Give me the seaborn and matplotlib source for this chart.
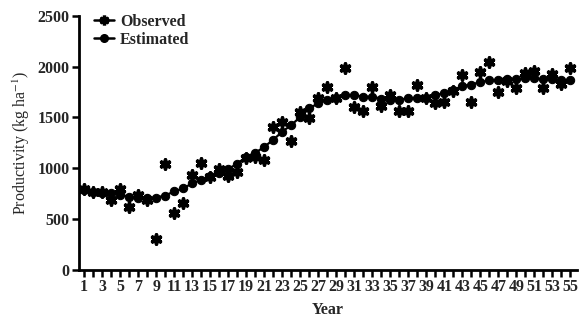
import matplotlib
matplotlib.use("Agg")
import matplotlib.pyplot as plt
from matplotlib.lines import Line2D
import seaborn as sns
import pandas as pd

years = list(range(1, 56))
observed = [790, 760, 765, 690, 790, 620, 735, 690, 300, 1045,
            555, 660, 930, 1050, 915, 995, 925, 965, 1100, 1110,
            1080, 1410, 1460, 1265, 1555, 1495, 1690, 1800, 1690, 1985,
            1600, 1560, 1800, 1610, 1720, 1560, 1560, 1820, 1690, 1640,
            1655, 1760, 1920, 1655, 1950, 2050, 1755, 1855, 1790, 1935,
            1960, 1790, 1930, 1830, 1985]
estimated = [780, 760, 755, 750, 735, 720, 710, 705, 710, 730,
             770, 800, 850, 885, 920, 955, 990, 1045, 1110, 1150,
             1210, 1280, 1360, 1425, 1505, 1590, 1640, 1675, 1690, 1720,
             1720, 1705, 1705, 1685, 1675, 1675, 1690, 1690, 1695, 1720,
             1740, 1770, 1810, 1825, 1850, 1865, 1870, 1880, 1875, 1885,
             1885, 1875, 1880, 1870, 1870]
year_labels = [str(y) if y % 2 == 1 else "" for y in years]
y_ticks = [0, 500, 1000, 1500, 2000, 2500]

df = pd.DataFrame({"Year": years, "Observed": observed, "Estimated": estimated})

sns.set_theme(style="ticks")
plt.rcParams["font.family"] = ["Liberation Serif", "DejaVu Serif"]
plt.rcParams["mathtext.fontset"] = "stix"

fig = plt.figure(figsize=(5.82, 3.22), dpi=100)
ax = fig.add_axes([0.136, 0.163, 0.855, 0.787])

star = (6, 2, 0)
sns.lineplot(data=df, x="Year", y="Estimated", ax=ax, color="black",
             linewidth=1.6, marker="o", markersize=6, markeredgecolor="black",
             markerfacecolor="black", zorder=3)
sns.scatterplot(data=df, x="Year", y="Observed", ax=ax, color="black",
                marker=star, s=42, linewidth=2.6, edgecolor="black", zorder=4)

ax.set_xlim(0.45, 55.7)
ax.set_ylim(0, 2500)
ax.set_xticks(years)
ax.set_xticklabels(year_labels, fontsize=11.5, fontweight="bold")
ax.set_yticks(y_ticks)
ax.set_yticklabels([str(v) for v in y_ticks], fontsize=11.5, fontweight="bold")
ax.tick_params(axis="both", direction="out", length=5, width=1.8, color="black", pad=2)
for s in ["left", "bottom"]:
    ax.spines[s].set_linewidth(2)
    ax.spines[s].set_color("black")
sns.despine(ax=ax)

ax.set_xlabel("Year", fontsize=11.5, fontweight="bold", labelpad=5)
ax.set_ylabel("Productivity (kg ha$^{-1}$)", fontsize=11.5, labelpad=4)

handles = [
    Line2D([0], [0], color="black", linewidth=1.8, marker=star, markersize=7,
           markeredgewidth=2.4),
    Line2D([0], [0], color="black", linewidth=1.8, marker="o", markersize=5.5),
]
leg = ax.legend(handles, ["Observed", "Estimated"], loc="upper left",
                bbox_to_anchor=(0.0, 1.065), frameon=False, handlelength=1.3,
                handletextpad=0.35, labelspacing=0.1,
                prop={"family": "Liberation Serif", "weight": "bold", "size": 11.5})

fig.savefig("out.png", dpi=100)
